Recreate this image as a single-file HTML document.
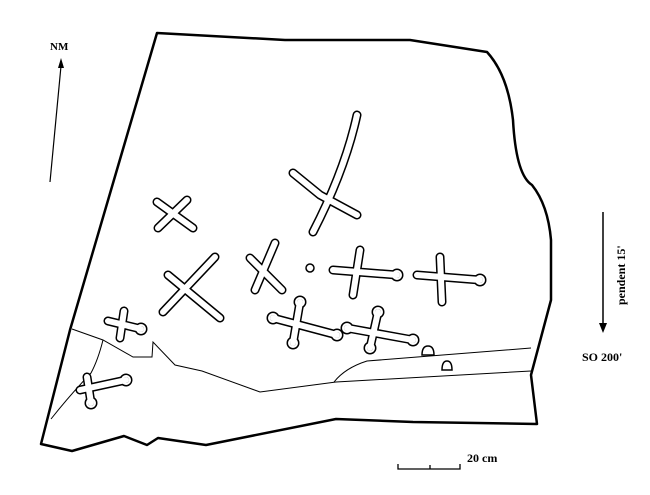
<!DOCTYPE html>
<html><head><meta charset="utf-8"><style>
html,body{margin:0;padding:0;background:#fff;}
svg{display:block;}
text{font-family:"Liberation Serif",serif;font-weight:bold;fill:#000;}
.o{fill:none;stroke:#000;stroke-width:9;stroke-linecap:round;stroke-linejoin:round;}
.i{fill:none;stroke:#fff;stroke-width:6;stroke-linecap:round;stroke-linejoin:round;}
</style></head><body>
<svg width="650" height="495" viewBox="0 0 650 495" xmlns="http://www.w3.org/2000/svg">
<defs>
<g id="marks">
<path d="M357,115 Q345,170 313,232 M293,173 L320,195 L357,215"/>
<path d="M157,202 L193,228 M187,200 L158,228"/>
<path d="M215,257 L163,312 M168,275 L220,318"/>
<path d="M275,243 L255,290 M250,258 L282,290"/>
<path d="M333,270 L397,275 M360,250 L353,295"/>
<path d="M417,275 L480,280 M440,257 L442,302"/>
<path d="M273,318 L337,335 M300,302 L293,343"/>
<path d="M347,328 L413,340 M378,312 L370,348"/>
<path d="M108,321 L141,329 M124,311 L120,338"/>
<path d="M80,390 L126,380 M87,377 L91,403"/>
</g>
<g id="knobs">
<circle cx="397" cy="275" r="1"/><circle cx="480" cy="280" r="1"/>
<circle cx="337" cy="335" r="1"/><circle cx="300" cy="302" r="1"/><circle cx="293" cy="343" r="1"/><circle cx="273" cy="318" r="1"/>
<circle cx="413" cy="340" r="1"/><circle cx="378" cy="312" r="1"/><circle cx="370" cy="348" r="1"/><circle cx="347" cy="328" r="1"/>
<circle cx="141" cy="329" r="1"/><circle cx="126" cy="380" r="1"/><circle cx="91" cy="403" r="1"/>
</g>
</defs>
<path d="M157,33 L285,40 L410,40 L487,52 Q508,75 513,120 Q516,175 532,185 Q548,205 551,240 L551,300 L531,375 L537,424 L413,422 L336,419 L206,445 L158,438 L147,445 L124,436 L72,451 L41,444 L70,330 Z" fill="none" stroke="#000" stroke-width="2.5" stroke-linejoin="round"/>
<g fill="none" stroke="#000" stroke-width="1">
<path d="M72,329 L103,340 L133,357 L152,357 L153,342 L175,365 L202,371 L260,392 L336,382 L531,371"/>
<path d="M334,382 Q345,368 367,361 L531,348"/>
<path d="M103,340 Q98,360 91,373 Q70,395 51,419"/>
</g>
<g fill="#fff" stroke="#000" stroke-width="1.5">
<path d="M422,355 Q422,346 428,346 Q434,346 434,355 Z"/>
<path d="M442,370 Q442,361 447,361 Q452,361 452,370 Z"/>
</g>
<g class="o"><use href="#marks"/></g>
<g fill="#000" stroke="#000" stroke-width="11"><use href="#knobs"/></g>
<g class="i"><use href="#marks"/></g>
<g fill="#fff" stroke="#fff" stroke-width="8"><use href="#knobs"/></g>
<circle cx="310" cy="268" r="4" fill="none" stroke="#000" stroke-width="1.5"/>
<line x1="50" y1="182" x2="61" y2="66" stroke="#000" stroke-width="1.2"/>
<path d="M61,58 L58,68 L64,68 Z" fill="#000"/>
<text x="50" y="50" font-size="11">NM</text>
<line x1="603" y1="212" x2="603" y2="325" stroke="#000" stroke-width="1.5"/>
<path d="M603,333 L599,323 L607,323 Z" fill="#000"/>
<text transform="translate(625,305) rotate(-90)" font-size="12">pendent  15'</text>
<text x="582" y="361" font-size="12">SO 200'</text>
<path d="M398,464 L398,469 L460,469 L460,464 M430,469 L430,465" fill="none" stroke="#000" stroke-width="1.3"/>
<text x="467" y="462" font-size="12">20 cm</text>
</svg>
</body></html>
